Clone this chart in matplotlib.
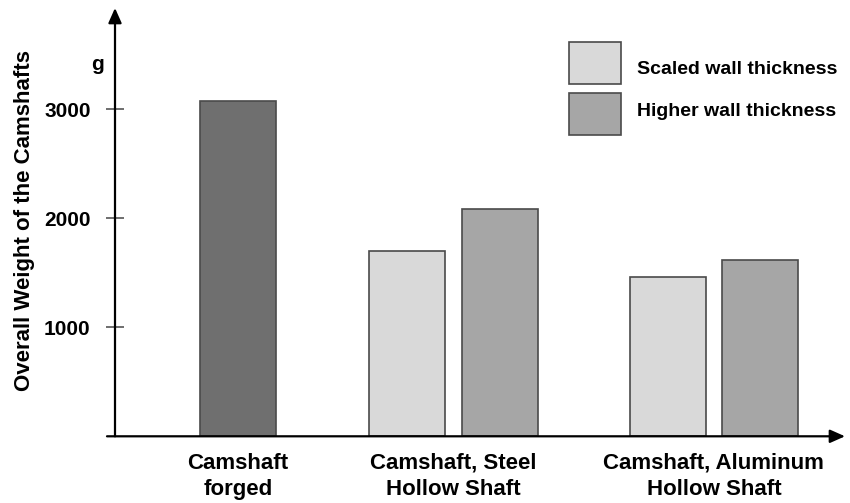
import matplotlib
matplotlib.use("Agg")
import matplotlib.pyplot as plt
from matplotlib.patches import Rectangle

plt.rcParams['font.family'] = ['Liberation Sans', 'DejaVu Sans']
plt.rcParams['font.weight'] = 'bold'

# Data (grams)
categories = ["Camshaft\nforged", "Camshaft, Steel\nHollow Shaft", "Camshaft, Aluminum\nHollow Shaft"]
forged_weight = [3075]
scaled_wall = [1700, 1460]      # steel, aluminum
higher_wall = [2085, 1620]      # steel, aluminum
series_labels = ["Scaled wall thickness", "Higher wall thickness"]
y_ticks = [1000, 2000, 3000]

# Layout
group_x = [1.62, 4.45, 7.88]
bar_w = 1.0
pair_off = 0.61
c_forged = "#6f6f6f"
c_scaled = "#d9d9d9"
c_higher = "#a6a6a6"
edge = "#4a4a4a"

W, H = 850, 503
fig = plt.figure(figsize=(W / 100, H / 100), dpi=100)
x0, x1 = 115, 845
y0, y1 = 436.3, 8
ax = fig.add_axes([x0 / W, (H - y0) / H, (x1 - x0) / W, (y0 - y1) / H])
ax.set_xlim(0, (x1 - x0) / 76.0)
ax.set_ylim(0, (y0 - y1) / 109.0 * 1000)

ax.bar(group_x[0], forged_weight, width=bar_w, color=c_forged, edgecolor=edge, linewidth=1.2, zorder=2)
ax.bar([g - pair_off for g in group_x[1:]], scaled_wall, width=bar_w,
       color=c_scaled, edgecolor=edge, linewidth=1.2, zorder=2)
ax.bar([g + pair_off for g in group_x[1:]], higher_wall, width=bar_w,
       color=c_higher, edgecolor=edge, linewidth=1.2, zorder=2)

for s in ax.spines.values():
    s.set_visible(False)

# Arrow axes
arrow_kw = dict(arrowstyle="-|>,head_length=0.9,head_width=0.4", color="black", lw=1.6,
                shrinkA=0, shrinkB=0)
ax.annotate("", xy=(0, 1.0), xytext=(0, 0), xycoords="axes fraction",
            textcoords="axes fraction", arrowprops=arrow_kw, annotation_clip=False)
ax.annotate("", xy=(1.0, 0), xytext=(-8 / 730, 0), xycoords="axes fraction",
            textcoords="axes fraction", arrowprops=arrow_kw, annotation_clip=False)

ax.set_yticks(y_ticks)
ax.set_yticklabels([str(v) for v in y_ticks], fontsize=15, fontweight="bold")
ax.tick_params(axis="y", direction="inout", length=13, width=1.2, color="#555555", pad=11)

ax.set_xticks(group_x)
ax.set_xticklabels(categories, fontsize=16, fontweight="bold", linespacing=1.3)
ax.tick_params(axis="x", length=0, pad=12)

ax.set_ylabel("Overall Weight of the Camshafts", fontsize=16, fontweight="bold")
ax.yaxis.set_label_coords(-80 / 730, 0.503)

fig.text(97 / W, 1 - 65 / H, "g", fontsize=15, fontweight="bold", ha="center", va="center")

# Legend drawn in figure pixel space
legend_colors = [c_scaled, c_higher]
box_tops = [42, 93]
text_centers = [70, 111]
for col, top, tc, lab in zip(legend_colors, box_tops, text_centers, series_labels):
    fig.patches.append(Rectangle((569 / W, 1 - (top + 42) / H), 52 / W, 42 / H,
                                 transform=fig.transFigure, facecolor=col,
                                 edgecolor=edge, linewidth=1.2))
    fig.text(637 / W, 1 - tc / H, lab, fontsize=14, fontweight="bold",
             ha="left", va="center")

fig.savefig("out.png", dpi=100)
